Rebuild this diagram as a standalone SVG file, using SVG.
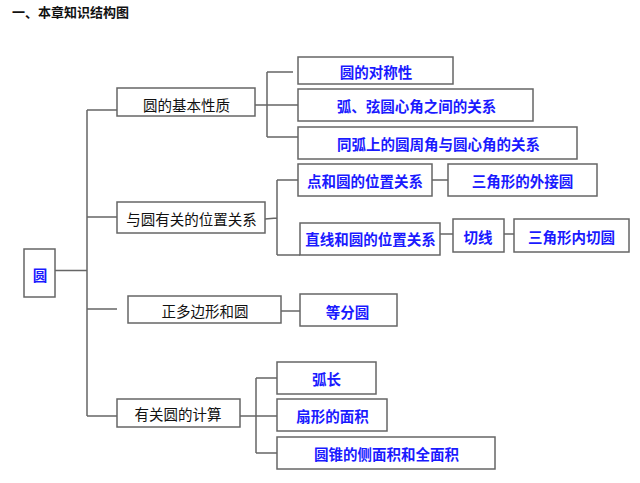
<svg xmlns="http://www.w3.org/2000/svg" width="640" height="483" viewBox="0 0 640 483">
<style>
.b{fill:#fff;stroke:#666;stroke-width:1.5}
.c{fill:none;stroke:#666;stroke-width:1.5}
text{font-family:"Noto Sans CJK SC","Noto Sans",sans-serif;font-size:14.5px;text-anchor:middle;dominant-baseline:central}
.k{fill:#111}
.u{fill:#1a1aff;font-weight:bold}
.t{font-size:13px;font-weight:bold;text-anchor:start;dominant-baseline:auto;fill:#111}
</style>
<rect width="640" height="483" fill="#fff"/>
<text class="t" x="12" y="17">一、本章知识结构图</text>
<g id="connectors">
<path class="c" d="M55 270.5H87M87 110V416M87 110H117M87 217H117M87 309H117M87 416H117"/>
<path class="c" d="M241 105H298M267 72V137M267 72H293M267 137H298"/>
<path class="c" d="M265 219L277 218M277 180V255M277 180H298M277 255H300M432 180H448M440 234H453M504 234H514"/>
<path class="c" d="M275 311H300"/>
<path class="c" d="M231 416H277M256 378V453M256 378H277M256 453H277"/>
</g>
<g id="n-yuan"><rect class="b" x="24" y="249" width="31" height="48"/><text class="u" x="40" y="274">圆</text></g>
<g id="n-jiben"><rect class="b" x="117" y="88" width="138" height="28"/><text class="k" x="186.5" y="104">圆的基本性质</text></g>
<g id="n-weizhi"><rect class="b" x="117" y="202" width="148" height="31"/><text class="k" x="191.5" y="218.5">与圆有关的位置关系</text></g>
<g id="n-zheng"><rect class="b" x="128" y="296" width="153" height="27"/><text class="k" x="205" y="310">正多边形和圆</text></g>
<g id="n-jisuan"><rect class="b" x="117" y="399" width="123" height="28"/><text class="k" x="178" y="413">有关圆的计算</text></g>
<g id="n-duichen"><rect class="b" x="298" y="57" width="155" height="27"/><text class="u" x="376" y="71">圆的对称性</text></g>
<g id="n-hu"><rect class="b" x="298" y="89" width="235" height="32"/><text class="u" x="416.5" y="105.5">弧、弦圆心角之间的关系</text></g>
<g id="n-tonghu"><rect class="b" x="298" y="127" width="279" height="32"/><text class="u" x="438.5" y="143.5">同弧上的圆周角与圆心角的关系</text></g>
<g id="n-dian"><rect class="b" x="298" y="164" width="134" height="32"/><text class="u" x="365" y="180.5">点和圆的位置关系</text></g>
<g id="n-waijie"><rect class="b" x="448" y="164" width="149" height="32"/><text class="u" x="522.5" y="180.5">三角形的外接圆</text></g>
<g id="n-zhixian"><rect class="b" x="300" y="223" width="140" height="32"/><text class="u" x="370.5" y="238">直线和圆的位置关系</text></g>
<g id="n-qiexian"><rect class="b" x="453" y="219" width="51" height="33"/><text class="u" x="478" y="236">切线</text></g>
<g id="n-neiqie"><rect class="b" x="514" y="219" width="115" height="33"/><text class="u" x="571.5" y="236">三角形内切圆</text></g>
<g id="n-dengfen"><rect class="b" x="300" y="294" width="97" height="32"/><text class="u" x="347.5" y="311">等分圆</text></g>
<g id="n-huchang"><rect class="b" x="277" y="362" width="99" height="32"/><text class="u" x="326.5" y="378.5">弧长</text></g>
<g id="n-shanxing"><rect class="b" x="277" y="399" width="110" height="32"/><text class="u" x="332.5" y="415.5">扇形的面积</text></g>
<g id="n-yuanzhui"><rect class="b" x="277" y="437" width="218" height="32"/><text class="u" x="386.5" y="453.5">圆锥的侧面积和全面积</text></g>
</svg>
